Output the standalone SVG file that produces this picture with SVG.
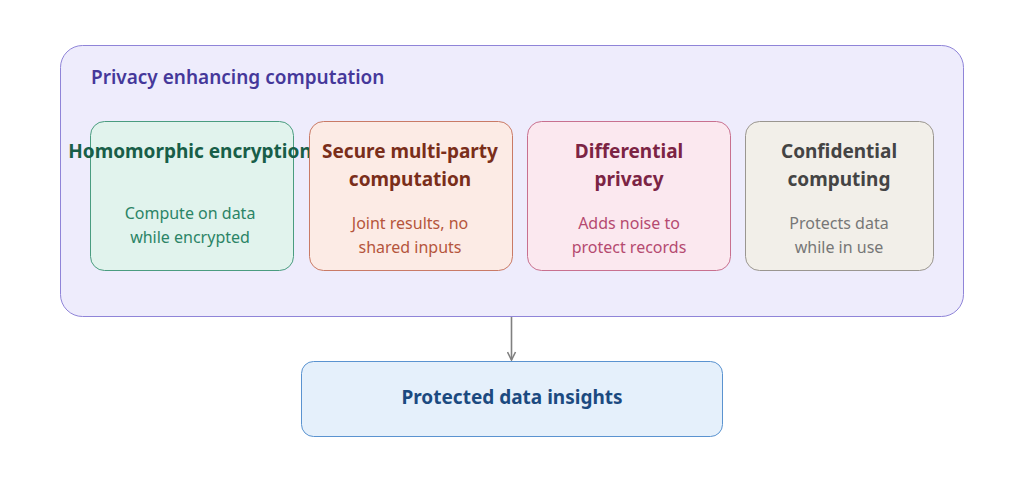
<svg xmlns="http://www.w3.org/2000/svg" width="1024" height="482" viewBox="0 0 1024 482">
<defs>
<style>
text{font-family:"Noto Sans","Open Sans",sans-serif;text-anchor:middle}
.t{font-size:19px;font-weight:bold}
.b{font-size:16px}
</style>
<marker id="ar" markerWidth="10" markerHeight="10" refX="9" refY="5" orient="auto" markerUnits="userSpaceOnUse"><path d="M1,1 L9,5 L1,9" fill="none" stroke="#808080" stroke-width="1.6"/></marker>
</defs>
<rect width="1024" height="482" fill="#fff"/>
<g id="group">
<rect x="60.5" y="45.5" width="903" height="271" rx="22" fill="#eeecfc" stroke="#8f84d8"/>
<text x="91" y="84" style="text-anchor:start;font-size:19px;font-weight:600" fill="#45389a">Privacy enhancing computation</text>
</g>
<g id="he">
<rect x="90.5" y="121.5" width="203" height="149" rx="14" fill="#e1f3ed" stroke="#4a9c80"/>
<text class="t" x="190" y="158" fill="#185e48">Homomorphic encryption</text>
<text class="b" x="190" y="219" fill="#2b8466">Compute on data</text>
<text class="b" x="190" y="243" fill="#2b8466">while encrypted</text>
</g>
<g id="smpc">
<rect x="309.5" y="121.5" width="203" height="149" rx="14" fill="#fcebe5" stroke="#c97a66"/>
<text class="t" x="410" y="158" fill="#7a2e1a">Secure multi-party</text>
<text class="t" x="410" y="186" fill="#7a2e1a">computation</text>
<text class="b" x="410" y="229" fill="#b5553c">Joint results, no</text>
<text class="b" x="410" y="253" fill="#b5553c">shared inputs</text>
</g>
<g id="dp">
<rect x="527.5" y="121.5" width="203" height="149" rx="14" fill="#fbe8ef" stroke="#c8708f"/>
<text class="t" x="629" y="158" fill="#7c2444">Differential</text>
<text class="t" x="629" y="186" fill="#7c2444">privacy</text>
<text class="b" x="629" y="229" fill="#b54a70">Adds noise to</text>
<text class="b" x="629" y="253" fill="#b54a70">protect records</text>
</g>
<g id="cc">
<rect x="745.5" y="121.5" width="188" height="149" rx="14" fill="#f2efe9" stroke="#9a9690"/>
<text class="t" x="839" y="158" fill="#444">Confidential</text>
<text class="t" x="839" y="186" fill="#444">computing</text>
<text class="b" x="839" y="229" fill="#777">Protects data</text>
<text class="b" x="839" y="253" fill="#777">while in use</text>
</g>
<g id="out">
<rect x="301.5" y="361.5" width="421" height="75" rx="12" fill="#e5f0fb" stroke="#5a93d0"/>
<text class="t" x="512" y="404" fill="#1b4a80">Protected data insights</text>
</g>
<g id="connectors">
<line x1="511.5" y1="317" x2="511.5" y2="360" stroke="#808080" stroke-width="1.6" marker-end="url(#ar)"/>
</g>
</svg>
